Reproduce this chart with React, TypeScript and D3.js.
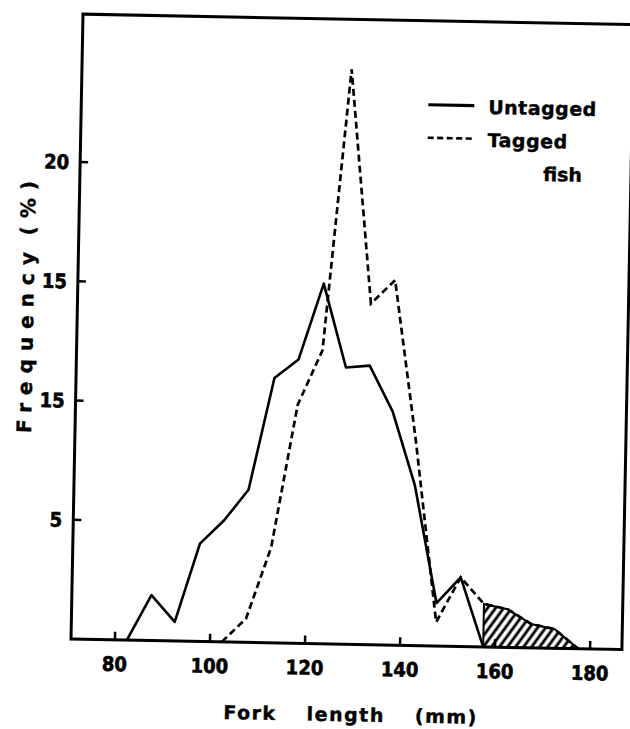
import React, { useEffect, useRef } from "react";
import * as d3 from "d3";

// fork length classes (mm, 5 mm bins, mid points)
const lengths = [
  82.5, 87.5, 92.5, 97.5, 102.5, 107.5, 112.5, 117.5, 122.5, 127.5,
  132.5, 137.5, 142.5, 147.5, 152.5, 157.5, 162.5, 167.5, 172.5, 177.5,
];
// frequency (%) per class
const untagged: (number | null)[] = [
  0, 1.9, 0.8, 4.1, 5.1, 6.4, 11.1, 11.9, 15.1, 11.6,
  11.7, 9.8, 6.7, 1.8, 2.9, 0, null, null, null, null,
];
const tagged: (number | null)[] = [
  null, null, null, null, 0, 1.0, 4.0, 10.0, 12.3, 24.1,
  14.3, 15.3, 8.6, 1.0, 2.9, 1.8, 1.6, 1.0, 0.8, 0,
];
// tagged fish longer than any untagged fish are hatched
const hatchFrom = 157.5;

const xTicks = [80, 100, 120, 140, 160, 180];
const yTicks = [5, 10, 15, 20];
const yTickLabels = ["5", "15", "15", "20"];
const legendLabels = ["Untagged", "Tagged"];

const App = () => {
  const ref = useRef<SVGSVGElement>(null);

  useEffect(() => {
    if (!ref.current) return;
    const width = 630;
    const height = 729;
    const left = 71;
    const right = 622;
    const top = 14;
    const bottom = 639;
    const ink = "#000";

    const svg = d3.select(ref.current);
    svg.selectAll("*").remove();

    svg.append("rect").attr("width", width).attr("height", height).attr("fill", "#fff");

    const pat = svg
      .append("defs")
      .append("pattern")
      .attr("id", "hatch")
      .attr("patternUnits", "userSpaceOnUse")
      .attr("width", 6.5)
      .attr("height", 6.5)
      .attr("patternTransform", "rotate(35)");
    pat
      .append("line")
      .attr("x1", 2)
      .attr("x2", 2)
      .attr("y1", 0)
      .attr("y2", 6.5)
      .attr("stroke", ink)
      .attr("stroke-width", 2.8);

    const x = d3.scaleLinear().domain([70.75, 186.7]).range([left, right]);
    const y = d3.scaleLinear().domain([0, 26.2]).range([bottom, top]);

    // the scanned figure sits slightly askew
    const g = svg.append("g").attr("transform", `rotate(1.1, ${left}, ${bottom})`);

    const tickFont = "'DejaVu Sans Condensed', 'DejaVu Sans', sans-serif";
    const labelFont = "'DejaVu Sans', sans-serif";

    // Frame
    g.append("rect")
      .attr("x", left)
      .attr("y", top)
      .attr("width", right - left)
      .attr("height", bottom - top)
      .attr("fill", "none")
      .attr("stroke", ink)
      .attr("stroke-width", 3);

    // Y ticks
    g.selectAll(".ytick")
      .data(yTicks)
      .enter()
      .append("line")
      .attr("x1", left)
      .attr("x2", left + 8)
      .attr("y1", (d) => y(d))
      .attr("y2", (d) => y(d))
      .attr("stroke", ink)
      .attr("stroke-width", 2.5);

    g.selectAll(".ylabel")
      .data(yTicks)
      .enter()
      .append("text")
      .attr("x", left - 11)
      .attr("y", (d) => y(d))
      .attr("dy", "0.36em")
      .attr("text-anchor", "end")
      .attr("font-family", tickFont)
      .attr("font-weight", "bold")
      .attr("font-size", 20)
      .attr("fill", ink)
      .attr("stroke", ink)
      .attr("stroke-width", 0.6)
      .text((d, i) => yTickLabels[i]);

    // X ticks
    g.selectAll(".xtick")
      .data(xTicks)
      .enter()
      .append("line")
      .attr("x1", (d) => x(d))
      .attr("x2", (d) => x(d))
      .attr("y1", bottom)
      .attr("y2", bottom - 8)
      .attr("stroke", ink)
      .attr("stroke-width", 2.5);

    g.selectAll(".xlabel")
      .data(xTicks)
      .enter()
      .append("text")
      .attr("x", (d) => x(d))
      .attr("y", bottom + 24)
      .attr("dy", "0.36em")
      .attr("text-anchor", "middle")
      .attr("font-family", tickFont)
      .attr("font-weight", "bold")
      .attr("font-size", 20)
      .attr("fill", ink)
      .attr("stroke", ink)
      .attr("stroke-width", 0.6)
      .text((d) => d);

    // Axis titles
    g.append("text")
      .attr("x", 352)
      .attr("y", 716)
      .attr("text-anchor", "middle")
      .attr("font-family", labelFont)
      .attr("font-weight", "bold")
      .attr("font-size", 19)
      .attr("letter-spacing", 1.5)
      .attr("word-spacing", 22)
      .attr("fill", ink)
      .attr("stroke", ink)
      .attr("stroke-width", 0.4)
      .text("Fork length (mm)");

    g.append("text")
      .attr("transform", "translate(27, 304) rotate(-90)")
      .attr("text-anchor", "middle")
      .attr("font-family", labelFont)
      .attr("font-weight", "bold")
      .attr("font-size", 20)
      .attr("letter-spacing", 8)
      .attr("word-spacing", -6)
      .attr("fill", ink)
      .attr("stroke", ink)
      .attr("stroke-width", 0.4)
      .text("Frequency (%)");

    const pairs = (vals: (number | null)[]) =>
      lengths
        .map((l, i) => [l, vals[i]] as [number, number | null])
        .filter((d) => d[1] !== null) as [number, number][];

    const line = d3
      .line<[number, number]>()
      .x((d) => x(d[0]))
      .y((d) => y(d[1]));

    // Hatched tail
    const area = d3
      .area<[number, number]>()
      .x((d) => x(d[0]))
      .y0(bottom)
      .y1((d) => y(d[1]));
    g.append("path")
      .attr("d", area(pairs(tagged).filter((d) => d[0] >= hatchFrom)))
      .attr("fill", "url(#hatch)")
      .attr("stroke", ink)
      .attr("stroke-width", 2);

    // Series
    g.append("path")
      .attr("d", line(pairs(untagged)))
      .attr("fill", "none")
      .attr("stroke", ink)
      .attr("stroke-width", 2.6)
      .attr("stroke-linejoin", "round");

    g.append("path")
      .attr("d", line(pairs(tagged)))
      .attr("fill", "none")
      .attr("stroke", ink)
      .attr("stroke-width", 2.7)
      .attr("stroke-dasharray", "7,4");

    // Legend
    const legend = g.append("g").attr("transform", "translate(418, 98)");
    legendLabels.forEach((label, i) => {
      legend
        .append("line")
        .attr("x1", 0)
        .attr("x2", 46)
        .attr("y1", i * 33)
        .attr("y2", i * 33)
        .attr("stroke", ink)
        .attr("stroke-width", i === 0 ? 3.2 : 2.7)
        .attr("stroke-dasharray", i === 0 ? null : "6,3.5");
      legend
        .append("text")
        .attr("x", 60)
        .attr("y", i * 33 + 8)
        .attr("font-family", labelFont)
        .attr("font-weight", "bold")
        .attr("font-size", 19)
        .attr("letter-spacing", 0.5)
        .attr("fill", ink)
        .attr("stroke", ink)
        .attr("stroke-width", 0.4)
        .text(label);
    });
    legend
      .append("text")
      .attr("x", 116)
      .attr("y", 74)
      .attr("font-family", labelFont)
      .attr("font-weight", "bold")
      .attr("font-size", 19)
      .attr("fill", ink)
      .attr("stroke", ink)
      .attr("stroke-width", 0.4)
      .text("fish");
  }, []);

  return (
    <svg
      ref={ref}
      width={630}
      height={729}
      style={{ position: "absolute", left: 0, top: 0 }}
    />
  );
};

export default App;
